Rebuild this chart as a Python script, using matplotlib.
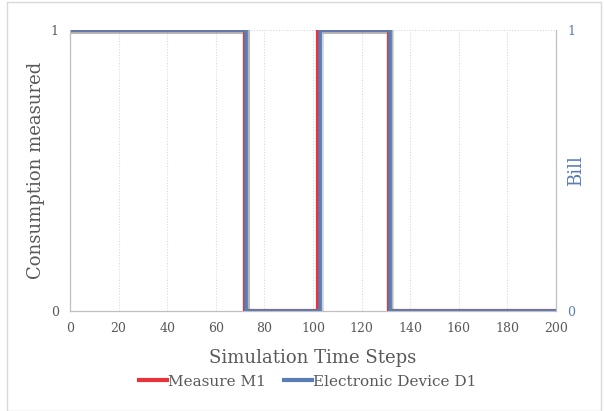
import matplotlib
matplotlib.use("Agg")
import matplotlib.pyplot as plt
import matplotlib.patheffects as pe
from matplotlib.lines import Line2D

# Data
m1_x = [0, 72.2, 72.2, 102.2, 102.2, 131.2, 131.2, 200]
m1_y = [1, 1, 0, 0, 1, 1, 0, 0]
d1_x = [0, 72.6, 72.6, 102.7, 102.7, 131.6, 131.6, 200]
d1_y = [1, 1, 0, 0, 1, 1, 0, 0]
xticks = list(range(0, 201, 20))

red = "#E8333C"
blue = "#5A7DB5"
grey = "#595959"

plt.rcParams['font.family'] = ['DejaVu Serif']

fig = plt.figure(figsize=(6.04, 4.11), dpi=100)
ax = fig.add_axes([0.1159, 0.2433, 0.8046, 0.6837])
ax2 = ax.twinx()

shadow = [pe.SimpleLineShadow(offset=(1.5, -1.5), shadow_color='grey', alpha=0.35), pe.Normal()]
ax.plot(m1_x, m1_y, color=red, lw=3, solid_joinstyle='miter', path_effects=shadow, zorder=3)
ax.plot(d1_x, d1_y, color=blue, lw=2.6, solid_joinstyle='miter', path_effects=shadow, zorder=4)

ax.set_xlim(0, 200)
ax.set_ylim(0, 1)
ax2.set_ylim(0, 1)
ax.set_xticks(xticks)
ax.set_yticks([0, 1])
ax2.set_yticks([0, 1])
ax.grid(axis='x', color='#D9D9D9', linestyle=(0, (1, 1.5)), lw=0.8)
ax.axhline(1, color='#D9D9D9', linestyle=(0, (1, 1.5)), lw=0.8, zorder=0)

for a in (ax, ax2):
    a.spines['top'].set_visible(False)
    for s in ('left', 'right', 'bottom'):
        a.spines[s].set_color('#BFBFBF')
    a.tick_params(length=0)
ax.tick_params(axis='both', labelsize=9, colors=grey, pad=8)
ax2.tick_params(axis='y', labelsize=9, colors=blue, pad=8)

ax.set_xlabel("Simulation Time Steps", fontsize=13, color=grey, labelpad=10)
ax.set_ylabel("Consumption measured", fontsize=13, color=grey, labelpad=4)
ax2.set_ylabel("Bill", fontsize=13, color=blue, labelpad=-6)

handles = [Line2D([], [], color=red, lw=3), Line2D([], [], color=blue, lw=3)]
fig.legend(handles, ["Measure M1", "Electronic Device D1"], loc='center',
           bbox_to_anchor=(0.51, 0.071), ncol=2, frameon=False, fontsize=11,
           handlelength=1.8, handletextpad=0.1, columnspacing=1.2,
           labelcolor=grey)

fig.patches.append(plt.Rectangle((0.012, 0.0), 0.983, 0.995, transform=fig.transFigure,
                                 fill=False, edgecolor='#D9D9D9', lw=1))

fig.savefig("out.png", dpi=100)
